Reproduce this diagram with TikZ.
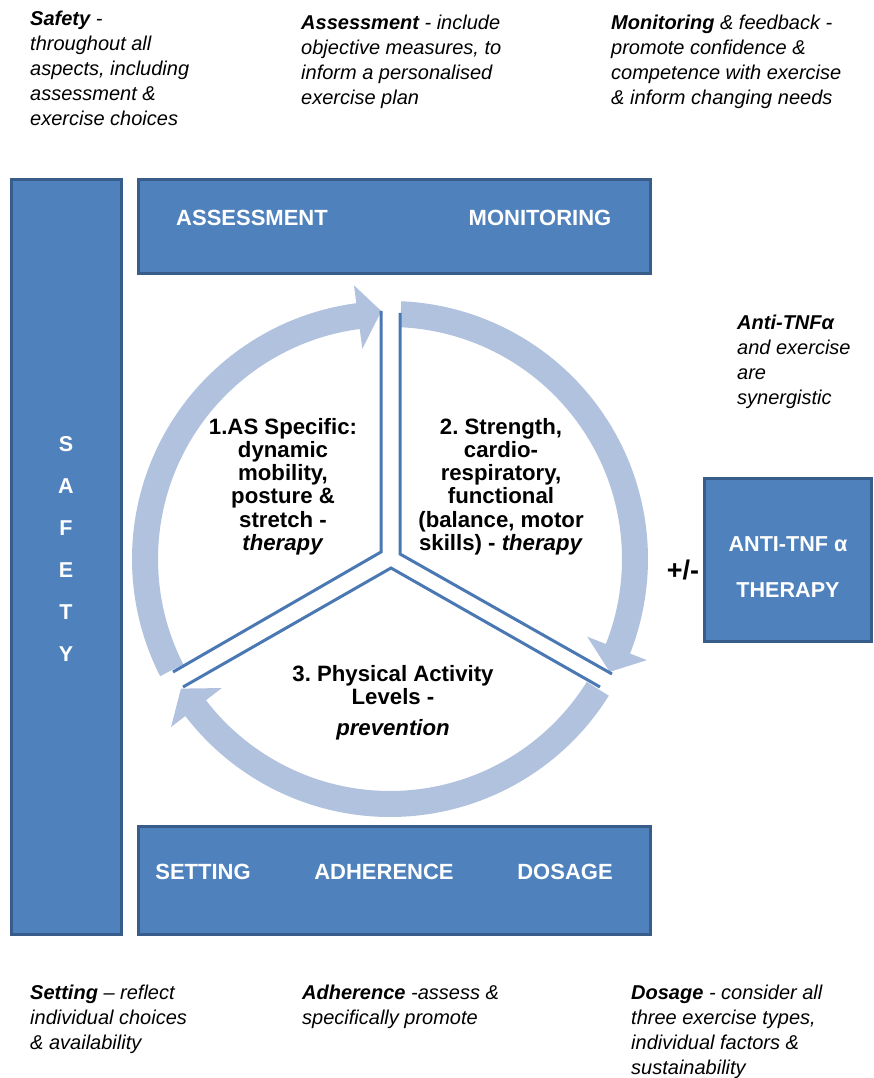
\documentclass[tikz,border=0pt]{standalone}
\usepackage{fontspec}
\setmainfont{Liberation Sans}
\definecolor{boxfill}{HTML}{4F81BD}
\definecolor{boxedge}{HTML}{385D8A}
\definecolor{ringcol}{HTML}{B1C2DE}
\definecolor{ylinecol}{HTML}{4A78B3}
\begin{document}
\frenchspacing
\begin{tikzpicture}[x=1pt,y=1pt,
  bluebox/.style={draw=boxedge, fill=boxfill, line width=3pt, inner sep=0pt},
  boxlabel/.style={text=white, font=\fontsize{22}{24}\selectfont\bfseries, inner sep=0pt},
  note/.style={anchor=north west, align=left, inner sep=0pt, font=\fontsize{20}{25}\selectfont\itshape},
  ctext/.style={anchor=north, align=center, inner sep=0pt, font=\fontsize{22.2}{23.2}\selectfont\bfseries},
  sepline/.style={draw=ylinecol, line width=3pt},
  ringarrow/.style={fill=ringcol}]
\useasboundingbox (0,0) rectangle (873,1078);

% boxes
\node[bluebox, minimum width=512, minimum height=94] (topbox) at (394.5,851.5) {};
\node[bluebox, minimum width=110, minimum height=755] (safetybar) at (66.5,521) {};
\node[bluebox, minimum width=512, minimum height=108] (bottombox) at (394.5,197.5) {};
\node[bluebox, minimum width=167, minimum height=163] (antibox) at (788,518) {};

% ring arrows
\begin{scope}[shift={(390,519)}]
\fill[ringarrow] (207:258) arc[start angle=207,end angle=97.5,radius=258] -- (97.5:276) -- (92:248) -- (97.5:212) -- (97.5:232) arc[start angle=97.5,end angle=207,radius=232] -- cycle;
\fill[ringarrow] (87.5:258) arc[start angle=87.5,end angle=-21.5,radius=258] -- (-21.5:276) -- (-27.2:247) -- (-21.5:212) -- (-21.5:232) arc[start angle=-21.5,end angle=87.5,radius=232] -- cycle;
\fill[ringarrow] (-32:258) arc[start angle=-32,end angle=-142.5,radius=258] -- (-142.5:276) -- (-148.2:246) -- (-142.5:212) -- (-142.5:232) arc[start angle=-142.5,end angle=-32,radius=232] -- cycle;
\end{scope}

% separators
\draw[sepline] (381,767) -- (381,526) -- (173,406);
\draw[sepline] (400,765) -- (400,524) -- (612,404);
\draw[sepline] (183,391) -- (391,510) -- (600,391);

% box labels
\node[boxlabel] (lassess) at (252,860) {ASSESSMENT};
\node[boxlabel] (lmonit) at (540,860) {MONITORING};
\node[boxlabel] (lsetting) at (203,206) {SETTING};
\node[boxlabel] (ladher) at (384,206) {ADHERENCE};
\node[boxlabel] (ldosage) at (565,206) {DOSAGE};
\node[boxlabel, align=center, font=\fontsize{21.6}{46}\selectfont\bfseries] (lanti) at (788,511) {ANTI-TNF α\\THERAPY};
\node[boxlabel, align=center, font=\fontsize{21.5}{42}\selectfont\bfseries] (lsafety) at (66,528.5) {S\\A\\F\\E\\T\\Y};
\node[inner sep=0pt, font=\fontsize{27}{28}\selectfont\bfseries] (plusminus) at (683,508) {+/-};

% centre texts
\node[ctext] (c1) at (283,660) {1.AS Specific:\\dynamic\\mobility,\\posture \&\\stretch -\\\textit{therapy}};
\node[ctext] (c2) at (501,660) {2. Strength,\\cardio-\\respiratory,\\functional\\(balance, motor\\skills) - \textit{therapy}};
\node[ctext] (c3) at (393,413) {3. Physical Activity\\Levels -\\[8pt]\textit{prevention}};

% notes
\node[note] (nsafety) at (30,1067) {\textbf{Safety} -\\throughout all\\aspects, including\\assessment \&\\exercise choices};
\node[note] (nassess) at (301,1063) {\textbf{Assessment} - include\\objective measures, to\\inform a personalised\\exercise plan};
\node[note] (nmonit) at (611,1063) {\textbf{Monitoring} \& feedback -\\promote confidence \&\\competence with exercise\\\& inform changing needs};
\node[note] (nanti) at (737,763) {\textbf{Anti-TNFα}\\and exercise\\are\\synergistic};
\node[note] (nsetting) at (30,93) {\textbf{Setting} – reflect\\individual choices\\\& availability};
\node[note] (nadher) at (302,93) {\textbf{Adherence} -assess \&\\specifically promote};
\node[note] (ndosage) at (631,93) {\textbf{Dosage} - consider all\\three exercise types,\\individual factors \&\\sustainability};
\end{tikzpicture}
\end{document}
